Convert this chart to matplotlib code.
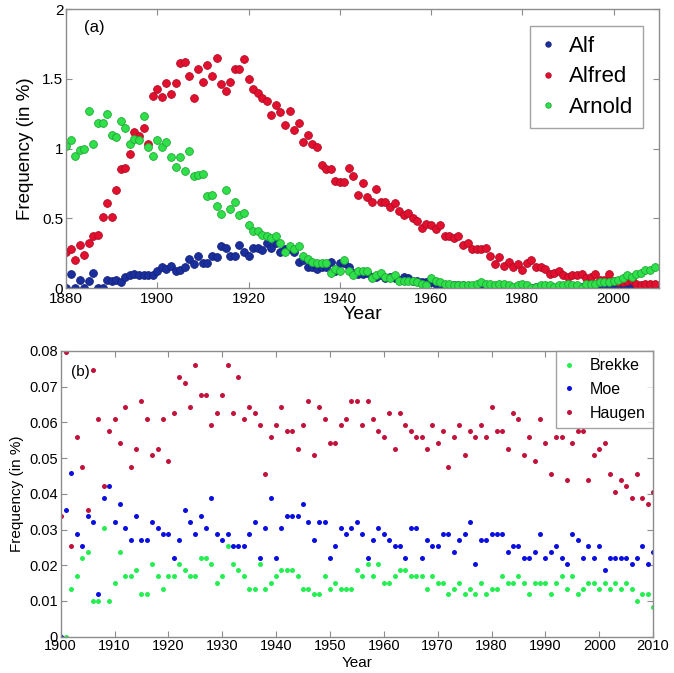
import matplotlib
matplotlib.use("Agg")
import matplotlib.pyplot as plt
import numpy as np

plt.rcParams['font.family'] = ['Liberation Sans', 'DejaVu Sans']

# ---- panel (a): 1880-2009 ----
years_a = np.arange(1880, 2010)

alf = [0.0, 0.10, 0.0, 0.06, 0.0, 0.05, 0.11, 0.0, 0.0, 0.06,
       0.05, 0.06, 0.04, 0.08, 0.09, 0.10, 0.09, 0.09, 0.09, 0.09,
       0.12, 0.15, 0.14, 0.16, 0.12, 0.13, 0.15, 0.21, 0.17, 0.23,
       0.18, 0.18, 0.23, 0.22, 0.30, 0.29, 0.23, 0.23, 0.31, 0.26,
       0.23, 0.29, 0.29, 0.27, 0.32, 0.29, 0.32, 0.26, 0.28, 0.28,
       0.26, 0.19, 0.20, 0.15, 0.15, 0.14, 0.15, 0.15, 0.19, 0.12,
       0.18, 0.18, 0.15, 0.11, 0.10, 0.10, 0.11, 0.08, 0.08, 0.09,
       0.07, 0.08, 0.07, 0.06, 0.08, 0.07, 0.05, 0.05, 0.04, 0.04,
       0.04, 0.03, 0.02, 0.02, 0.01, 0.02, 0.02, 0.02, 0.01, 0.01,
       0.01, 0.0, 0.01, 0.01, 0.0, 0.01, 0.0, 0.01, 0.0, 0.01,
       0.0, 0.01, 0.0, 0.01, 0.01, 0.0, 0.01, 0.0, 0.01, 0.0,
       0.01, 0.0, 0.01, 0.01, 0.0, 0.01, 0.02, 0.02, 0.02, 0.03,
       0.03, 0.02, 0.03, 0.02, 0.01, 0.01, 0.01, 0.0, 0.01, 0.01]

alfred = [0.26, 0.28, 0.20, 0.31, 0.24, 0.32, 0.37, 0.38, 0.51, 0.61,
          0.51, 0.70, 0.85, 0.86, 0.96, 1.12, 1.09, 1.15, 1.03, 1.38,
          1.43, 1.37, 1.47, 1.39, 1.47, 1.61, 1.62, 1.52, 1.36, 1.57,
          1.48, 1.60, 1.52, 1.65, 1.46, 1.41, 1.48, 1.57, 1.57, 1.64,
          1.50, 1.43, 1.40, 1.36, 1.34, 1.24, 1.31, 1.26, 1.17, 1.27,
          1.13, 1.18, 1.05, 1.10, 1.03, 1.01, 0.88, 0.85, 0.85, 0.77,
          0.76, 0.76, 0.86, 0.80, 0.67, 0.75, 0.65, 0.62, 0.71, 0.62,
          0.62, 0.58, 0.61, 0.55, 0.52, 0.54, 0.50, 0.48, 0.43, 0.46,
          0.45, 0.42, 0.45, 0.37, 0.37, 0.36, 0.37, 0.31, 0.325, 0.28,
          0.28, 0.28, 0.29, 0.23, 0.17, 0.22, 0.16, 0.19, 0.15, 0.17,
          0.13, 0.18, 0.20, 0.15, 0.15, 0.14, 0.10, 0.11, 0.12, 0.09,
          0.08, 0.09, 0.09, 0.10, 0.07, 0.08, 0.10, 0.06, 0.06, 0.10,
          0.05, 0.04, 0.04, 0.05, 0.06, 0.03, 0.02, 0.03, 0.03, 0.03]

arnold = [1.02, 1.06, 0.95, 0.99, 1.00, 1.27, 1.03, 1.18, 1.18, 1.25,
          1.10, 1.08, 1.20, 1.15, 1.03, 1.07, 1.06, 1.23, 1.01, 0.95,
          1.06, 1.01, 1.05, 0.94, 0.87, 0.94, 0.84, 0.98, 0.80, 0.81,
          0.82, 0.66, 0.67, 0.59, 0.53, 0.70, 0.57, 0.62, 0.52, 0.54,
          0.45, 0.41, 0.41, 0.38, 0.37, 0.36, 0.37, 0.325, 0.26, 0.30,
          0.28, 0.30, 0.23, 0.21, 0.19, 0.18, 0.18, 0.18, 0.11, 0.14,
          0.12, 0.20, 0.12, 0.09, 0.12, 0.12, 0.12, 0.07, 0.09, 0.11,
          0.08, 0.07, 0.09, 0.05, 0.05, 0.05, 0.05, 0.04, 0.03, 0.02,
          0.07, 0.05, 0.04, 0.03, 0.03, 0.02, 0.02, 0.02, 0.02, 0.02,
          0.03, 0.04, 0.03, 0.03, 0.02, 0.03, 0.03, 0.02, 0.01, 0.02,
          0.03, 0.02, 0.0, 0.01, 0.02, 0.02, 0.02, 0.01, 0.02, 0.02,
          0.03, 0.02, 0.02, 0.0, 0.03, 0.03, 0.03, 0.04, 0.04, 0.04,
          0.05, 0.06, 0.07, 0.09, 0.08, 0.10, 0.11, 0.13, 0.13, 0.15]

# ---- panel (b): 1900-2010 ----
years_b = np.arange(1900, 2011)

brekke = [0.0, 0.0, 0.0134, 0.0169, 0.0219, 0.0236, 0.0100, 0.0100, 0.0304, 0.0100,
          0.0151, 0.0236, 0.0169, 0.0169, 0.0186, 0.0119, 0.0119, 0.0203, 0.0169, 0.0134,
          0.0169, 0.0169, 0.0203, 0.0186, 0.0169, 0.0169, 0.0219, 0.0219, 0.0203, 0.0151,
          0.0169, 0.0254, 0.0203, 0.0186, 0.0169, 0.0134, 0.0134, 0.0203, 0.0134, 0.0151,
          0.0169, 0.0186, 0.0186, 0.0186, 0.0169, 0.0134, 0.0134, 0.0119, 0.0119, 0.0169,
          0.0134, 0.0151, 0.0134, 0.0134, 0.0134, 0.0186, 0.0169, 0.0203, 0.0169, 0.0203,
          0.0151, 0.0151, 0.0169, 0.0186, 0.0186, 0.0169, 0.0169, 0.0169, 0.0134, 0.0169,
          0.0151, 0.0151, 0.0119, 0.0134, 0.0151, 0.0119, 0.0134, 0.0119, 0.0151, 0.0119,
          0.0134, 0.0134, 0.0169, 0.0151, 0.0151, 0.0169, 0.0151, 0.0119, 0.0151, 0.0151,
          0.0151, 0.0119, 0.0151, 0.0169, 0.0134, 0.0169, 0.0119, 0.0134, 0.0151, 0.0151,
          0.0134, 0.0151, 0.0134, 0.0151, 0.0134, 0.0151, 0.0134, 0.0100, 0.0119, 0.0119, 0.0083]

moe = [0.0, 0.0356, 0.0457, 0.0287, 0.0254, 0.0338, 0.0321, 0.0119, 0.0389, 0.0423,
       0.0321, 0.0371, 0.0304, 0.0271, 0.0338, 0.0271, 0.0271, 0.0321, 0.0304, 0.0287,
       0.0287, 0.0219, 0.0271, 0.0356, 0.0321, 0.0287, 0.0338, 0.0304, 0.0389, 0.0287,
       0.0271, 0.0287, 0.0254, 0.0254, 0.0254, 0.0287, 0.0321, 0.0219, 0.0304, 0.0389,
       0.0219, 0.0304, 0.0338, 0.0338, 0.0338, 0.0371, 0.0321, 0.0271, 0.0321, 0.0321,
       0.0219, 0.0254, 0.0304, 0.0287, 0.0304, 0.0321, 0.0287, 0.0219, 0.0271, 0.0304,
       0.0287, 0.0271, 0.0254, 0.0254, 0.0219, 0.0304, 0.0304, 0.0219, 0.0271, 0.0254,
       0.0254, 0.0287, 0.0287, 0.0236, 0.0271, 0.0287, 0.0321, 0.0203, 0.0271, 0.0271,
       0.0287, 0.0287, 0.0287, 0.0236, 0.0254, 0.0254, 0.0219, 0.0219, 0.0236, 0.0287,
       0.0219, 0.0236, 0.0254, 0.0219, 0.0203, 0.0287, 0.0271, 0.0219, 0.0254, 0.0219,
       0.0254, 0.0186, 0.0219, 0.0219, 0.0219, 0.0219, 0.0203, 0.0219, 0.0254, 0.0203, 0.0236]

haugen = [0.0338, 0.0796, 0.0254, 0.0558, 0.0474, 0.0356, 0.0746, 0.0609, 0.0423, 0.0576,
          0.0609, 0.0541, 0.0643, 0.0474, 0.0525, 0.0660, 0.0609, 0.0508, 0.0525, 0.0609,
          0.0491, 0.0626, 0.0728, 0.0711, 0.0643, 0.0762, 0.0677, 0.0677, 0.0592, 0.0626,
          0.0677, 0.0762, 0.0626, 0.0728, 0.0609, 0.0643, 0.0626, 0.0592, 0.0456, 0.0558,
          0.0592, 0.0643, 0.0575, 0.0575, 0.0525, 0.0592, 0.0660, 0.0508, 0.0643, 0.0609,
          0.0541, 0.0541, 0.0592, 0.0609, 0.0660, 0.0660, 0.0592, 0.0660, 0.0609, 0.0575,
          0.0558, 0.0626, 0.0525, 0.0626, 0.0592, 0.0575, 0.0558, 0.0558, 0.0525, 0.0592,
          0.0541, 0.0575, 0.0474, 0.0558, 0.0592, 0.0508, 0.0575, 0.0558, 0.0592, 0.0558,
          0.0643, 0.0575, 0.0575, 0.0525, 0.0626, 0.0609, 0.0508, 0.0558, 0.0491, 0.0609,
          0.0541, 0.0456, 0.0558, 0.0558, 0.0440, 0.0541, 0.0575, 0.0575, 0.0440, 0.0508,
          0.0525, 0.0541, 0.0456, 0.0406, 0.0440, 0.0423, 0.0389, 0.0456, 0.0389, 0.0371, 0.0406]

axis_gray = '#8c8c8c'


def style_axes(ax):
    for s in ax.spines.values():
        s.set_color(axis_gray)
        s.set_linewidth(1.0)
    ax.tick_params(direction='in', top=True, right=True, color=axis_gray,
                   length=4, width=0.8, pad=2)


fig = plt.figure(figsize=(6.74, 6.73), dpi=100)

# ---------- (a) ----------
ax1 = fig.add_axes([0.098, 0.572, 0.880, 0.4146])
ax1.plot(years_a, alf, 'o', ms=5.6, mfc='#1a2e9e', mec='#14237a', mew=0.6, label='Alf')
ax1.plot(years_a, alfred, 'o', ms=5.6, mfc='#e2102e', mec='#b00c25', mew=0.6, label='Alfred')
ax1.plot(years_a, arnold, 'o', ms=5.6, mfc='#2fe04a', mec='#1ea834', mew=0.6, label='Arnold')
ax1.set_xlim(1880, 2010)
ax1.set_ylim(0, 2)
ax1.set_xticks(np.arange(1880, 2001, 20))
ax1.set_yticks([0, 0.5, 1, 1.5, 2])
ax1.set_yticklabels(['0', '0.5', '1', '1.5', '2'])
style_axes(ax1)
ax1.tick_params(labelsize=11)
ax1.tick_params(axis='x', pad=3)
ax1.set_xlabel('Year', fontsize=14, labelpad=0)
ax1.set_ylabel('Frequency (in %)', fontsize=13.5, labelpad=6)
ax1.text(0.030, 0.935, '(a)', transform=ax1.transAxes, fontsize=12, va='center')
leg1 = ax1.legend(loc='upper right', bbox_to_anchor=(0.973, 0.939), borderaxespad=0,
                  fontsize=16, markerscale=0.7, handlelength=0.7, handletextpad=0.6,
                  fancybox=False, labelspacing=0.42, borderpad=0.45)
leg1.get_frame().set_edgecolor(axis_gray)
leg1.get_frame().set_linewidth(1.0)

# ---------- (b) ----------
ax2 = fig.add_axes([0.090, 0.054, 0.879, 0.4245])
ax2.plot(years_b, brekke, 'o', ms=3.6, mfc='#25ee52', mec='none', label='Brekke')
ax2.plot(years_b, moe, 'o', ms=3.6, mfc='#0a0ee0', mec='none', label='Moe')
ax2.plot(years_b, haugen, 'o', ms=3.6, mfc='#c2123c', mec='none', label='Haugen')
ax2.set_xlim(1900, 2010)
ax2.set_ylim(0, 0.08)
ax2.set_xticks(np.arange(1900, 2011, 10))
ax2.set_yticks(np.arange(0, 0.081, 0.01))
ax2.set_yticklabels(['0', '0.01', '0.02', '0.03', '0.04', '0.05', '0.06', '0.07', '0.08'])
style_axes(ax2)
ax2.tick_params(labelsize=10.5)
ax2.set_xlabel('Year', fontsize=11, labelpad=2)
ax2.set_ylabel('Frequency (in %)', fontsize=11, labelpad=4)
ax2.text(0.0175, 0.925, '(b)', transform=ax2.transAxes, fontsize=11, va='center')
leg2 = ax2.legend(loc='upper right', bbox_to_anchor=(1.0, 1.0), borderaxespad=0,
                  fontsize=11.5, markerscale=1.0, handlelength=0.8, handletextpad=0.9,
                  fancybox=False, labelspacing=0.55, borderpad=0.45)
leg2.get_frame().set_edgecolor(axis_gray)
leg2.get_frame().set_linewidth(1.0)

fig.savefig('out.png', dpi=100)
